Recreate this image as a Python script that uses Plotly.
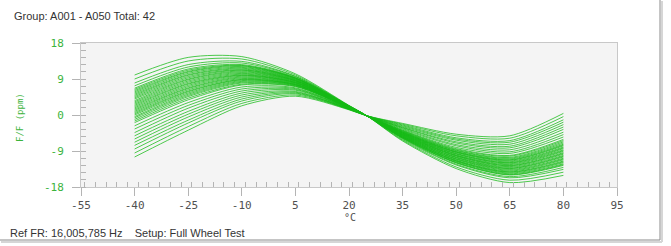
import plotly.graph_objects as go

# ---------------- data ----------------
temps = [-40, -25, -10, 5, 20, 25, 35, 50, 65, 80]

s01 = [10.0, 14.4, 14.6, 10.3, 2.4, -0.2, -6.5, -13.4, -16.9, -15.1]
s02 = [9.0, 13.5, 14.0, 10.0, 2.3, -0.2, -6.3, -13.0, -16.3, -14.3]
s03 = [8.0, 12.6, 13.4, 9.7, 2.3, -0.2, -6.1, -12.5, -15.7, -13.6]
s04 = [7.3, 12.0, 13.0, 9.6, 2.3, -0.2, -5.9, -12.3, -15.4, -13.1]
s05 = [6.7, 11.5, 12.6, 9.4, 2.2, -0.2, -5.8, -12.0, -15.0, -12.6]
s06 = [6.4, 11.2, 12.4, 9.3, 2.2, -0.2, -5.7, -11.9, -14.9, -12.4]
s07 = [6.1, 10.9, 12.3, 9.2, 2.2, -0.2, -5.7, -11.8, -14.7, -12.2]
s08 = [5.8, 10.7, 12.1, 9.2, 2.2, -0.2, -5.6, -11.6, -14.5, -11.9]
s09 = [5.5, 10.4, 11.9, 9.1, 2.2, -0.2, -5.5, -11.5, -14.3, -11.7]
s10 = [5.2, 10.1, 11.7, 9.0, 2.1, -0.2, -5.5, -11.4, -14.2, -11.5]
s11 = [4.9, 9.9, 11.5, 8.9, 2.1, -0.2, -5.4, -11.3, -14.0, -11.2]
s12 = [4.6, 9.6, 11.3, 8.8, 2.1, -0.2, -5.3, -11.1, -13.8, -11.0]
s13 = [4.3, 9.3, 11.2, 8.7, 2.1, -0.2, -5.3, -11.0, -13.6, -10.8]
s14 = [4.0, 9.0, 11.0, 8.6, 2.1, -0.2, -5.2, -10.9, -13.4, -10.5]
s15 = [3.6, 8.8, 10.8, 8.6, 2.1, -0.2, -5.1, -10.7, -13.3, -10.3]
s16 = [3.3, 8.5, 10.6, 8.5, 2.0, -0.2, -5.1, -10.6, -13.1, -10.1]
s17 = [3.0, 8.2, 10.4, 8.4, 2.0, -0.2, -5.0, -10.5, -12.9, -9.8]
s18 = [2.7, 7.9, 10.2, 8.3, 2.0, -0.2, -4.9, -10.3, -12.7, -9.6]
s19 = [2.4, 7.7, 10.0, 8.2, 2.0, -0.2, -4.9, -10.2, -12.6, -9.4]
s20 = [2.1, 7.4, 9.9, 8.1, 2.0, -0.2, -4.8, -10.1, -12.4, -9.1]
s21 = [1.8, 7.1, 9.7, 8.1, 2.0, -0.2, -4.7, -10.0, -12.2, -8.9]
s22 = [1.5, 6.8, 9.5, 8.0, 1.9, -0.2, -4.7, -9.8, -12.0, -8.7]
s23 = [1.2, 6.6, 9.3, 7.9, 1.9, -0.2, -4.6, -9.7, -11.9, -8.4]
s24 = [0.9, 6.3, 9.1, 7.8, 1.9, -0.2, -4.5, -9.6, -11.7, -8.2]
s25 = [0.6, 6.0, 8.9, 7.7, 1.9, -0.2, -4.5, -9.4, -11.5, -8.0]
s26 = [0.3, 5.8, 8.8, 7.6, 1.9, -0.2, -4.4, -9.3, -11.3, -7.7]
s27 = [0.0, 5.5, 8.6, 7.6, 1.9, -0.2, -4.3, -9.2, -11.2, -7.5]
s28 = [-0.4, 5.2, 8.4, 7.5, 1.8, -0.2, -4.3, -9.1, -11.0, -7.3]
s29 = [-0.7, 4.9, 8.2, 7.4, 1.8, -0.2, -4.2, -8.9, -10.8, -7.0]
s30 = [-1.1, 4.6, 8.0, 7.3, 1.8, -0.2, -4.1, -8.8, -10.6, -6.7]
s31 = [-1.5, 4.2, 7.7, 7.2, 1.8, -0.2, -4.0, -8.6, -10.3, -6.4]
s32 = [-1.9, 3.8, 7.5, 7.1, 1.8, -0.2, -3.9, -8.4, -10.1, -6.1]
s33 = [-2.7, 3.1, 7.0, 6.8, 1.7, -0.2, -3.8, -8.1, -9.6, -5.5]
s34 = [-3.5, 2.4, 6.5, 6.6, 1.7, -0.2, -3.6, -7.7, -9.2, -4.9]
s35 = [-4.4, 1.7, 6.0, 6.4, 1.6, -0.2, -3.4, -7.4, -8.7, -4.3]
s36 = [-5.2, 0.9, 5.5, 6.2, 1.6, -0.2, -3.2, -7.0, -8.2, -3.6]
s37 = [-6.0, 0.2, 5.0, 5.9, 1.5, -0.2, -3.1, -6.7, -7.8, -3.0]
s38 = [-6.8, -0.5, 4.5, 5.7, 1.5, -0.2, -2.9, -6.3, -7.3, -2.4]
s39 = [-7.6, -1.3, 4.0, 5.5, 1.5, -0.2, -2.7, -6.0, -6.8, -1.8]
s40 = [-8.5, -2.0, 3.5, 5.3, 1.4, -0.2, -2.5, -5.7, -6.4, -1.2]
s41 = [-9.5, -2.9, 2.9, 5.0, 1.4, -0.2, -2.3, -5.2, -5.8, -0.4]
s42 = [-10.5, -3.8, 2.3, 4.7, 1.3, -0.2, -2.1, -4.8, -5.2, 0.4]

curves = [s01, s02, s03, s04, s05, s06, s07, s08, s09, s10, s11, s12, s13, s14,
          s15, s16, s17, s18, s19, s20, s21, s22, s23, s24, s25, s26, s27, s28,
          s29, s30, s31, s32, s33, s34, s35, s36, s37, s38, s39, s40, s41, s42]

x_ticks = [-55, -40, -25, -10, 5, 20, 35, 50, 65, 80, 95]
y_ticks = [-18, -9, 0, 9, 18]

title_text = "Group: A001 - A050 Total: 42"
footer_text = "Ref FR: 16,005,785 Hz\u00a0\u00a0\u00a0\u00a0Setup: Full Wheel Test"
y_title = "F/F (ppm)"
x_title = "\u00b0C"

# ---------------- layout geometry ----------------
WIDTH, HEIGHT = 671, 246
L, R, T, B = 81, 54, 43, 59
PW = WIDTH - L - R
PH = HEIGHT - T - B


def pxx(x):
    return (x - L) / PW


def pxy(y):
    return (T + PH - y) / PH


fig = go.Figure()
for c in curves:
    fig.add_trace(go.Scatter(
        x=temps, y=c, mode="lines",
        line=dict(color="rgba(20,185,20,0.75)", width=1, shape="spline", smoothing=0.8),
        hoverinfo="skip", showlegend=False))

GREEN = "#3cb43c"
TICK = "#b4b4b4"

fig.update_layout(
    width=WIDTH, height=HEIGHT,
    margin=dict(l=L, r=R, t=T, b=B),
    paper_bgcolor="white",
    plot_bgcolor="#f4f4f4",
    showlegend=False,
    xaxis=dict(
        range=[-55, 95], tickmode="array", tickvals=x_ticks,
        ticktext=[str(v) for v in x_ticks],
        showgrid=False, zeroline=False,
        showline=True, linecolor="#c8c8c8", linewidth=1, mirror=True,
        ticks="outside", ticklen=8, tickcolor=TICK, tickwidth=1,
        minor=dict(ticks="inside", dtick=3, ticklen=5, tickcolor=TICK, showgrid=False),
        tickfont=dict(family="DejaVu Sans Mono", size=11, color="#505050"),
    ),
    yaxis=dict(
        range=[-18, 18], tickmode="array", tickvals=y_ticks,
        ticktext=[str(v) for v in y_ticks],
        showgrid=False, zeroline=False,
        showline=True, linecolor="#c8c8c8", linewidth=1, mirror=True,
        ticks="outside", ticklen=8, tickcolor=TICK, tickwidth=1,
        ticklabelstandoff=6,
        minor=dict(ticks="inside", dtick=1.8, ticklen=5, tickcolor=TICK, showgrid=False),
        tickfont=dict(family="DejaVu Sans Mono", size=11, color=GREEN),
    ),
    annotations=[
        dict(text=title_text, xref="paper", yref="paper", x=pxx(12), y=pxy(16),
             xanchor="left", yanchor="middle", showarrow=False,
             font=dict(family="Liberation Sans", size=11, color="#333333")),
        dict(text=footer_text, xref="paper", yref="paper", x=pxx(8), y=pxy(233),
             xanchor="left", yanchor="middle", showarrow=False,
             font=dict(family="Liberation Sans", size=11, color="#333333")),
        dict(text=y_title, xref="paper", yref="paper", x=pxx(20), y=pxy(118),
             xanchor="center", yanchor="middle", showarrow=False, textangle=-90,
             font=dict(family="DejaVu Sans Mono", size=9, color=GREEN)),
        dict(text=x_title, xref="paper", yref="paper", x=pxx(350), y=pxy(217),
             xanchor="center", yanchor="middle", showarrow=False,
             font=dict(family="DejaVu Sans Mono", size=10, color="#505050")),
    ],
    shapes=[
        dict(type="rect", xref="paper", yref="paper",
             x0=pxx(-3), x1=pxx(660), y0=pxy(240), y1=pxy(-3),
             line=dict(color="#8a8a8a", width=1), fillcolor="rgba(0,0,0,0)", layer="below"),
        dict(type="line", xref="paper", yref="paper",
             x0=pxx(662), x1=pxx(662), y0=pxy(242), y1=pxy(1),
             line=dict(color="#d6d6d6", width=2)),
        dict(type="line", xref="paper", yref="paper",
             x0=pxx(1), x1=pxx(662), y0=pxy(242), y1=pxy(242),
             line=dict(color="#d6d6d6", width=2)),
    ],
)

fig.write_html(
    "out.html",
    config={"displayModeBar": False, "staticPlot": True},
    post_script="document.body.style.margin='0px';document.body.style.overflow='hidden';",
)
